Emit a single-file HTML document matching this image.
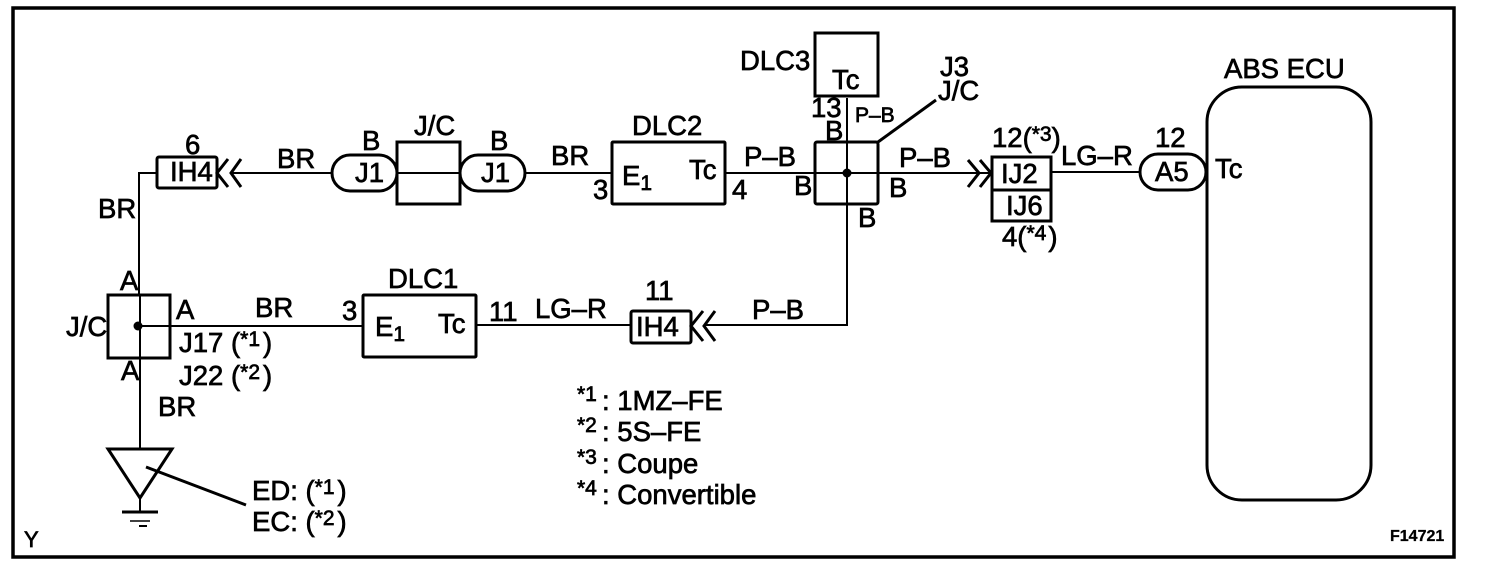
<!DOCTYPE html>
<html>
<head>
<meta charset="utf-8">
<style>
html,body{margin:0;padding:0;background:#fff;}
svg{display:block;}
text{font-family:"Liberation Sans",sans-serif;font-size:27.5px;fill:#000;stroke:#000;stroke-width:.7px;}
.s{font-size:21px;}
.m{font-size:21px;}
</style>
</head>
<body>
<svg width="1504" height="576" viewBox="0 0 1504 576" xmlns="http://www.w3.org/2000/svg">
<rect x="13" y="8" width="1441" height="549" fill="none" stroke="#000" stroke-width="3.5"/>
<g fill="none" stroke="#000" stroke-width="2">
<path d="M157 173H139V295"/>
<path d="M140 295V448"/>
<path d="M231 173H332"/>
<path d="M525 173H612"/>
<path d="M725 173H990"/>
<path d="M847 98V325H704"/>
<path d="M1051 172H1140"/>
<path d="M139 326H363"/>
<path d="M476 325H631"/>
<path d="M140 498V511"/>
<path d="M397 173H460"/>
</g>
<g fill="none" stroke="#000" stroke-width="3">
<rect x="157" y="157" width="60" height="31" rx="2"/>
<path d="M228 159L217 173L228 187M241 159L231 173L241 187"/>
<rect x="332" y="155" width="65" height="36" rx="18"/>
<rect x="397" y="142" width="63" height="62"/>
<rect x="460" y="155" width="65" height="36" rx="18"/>
<rect x="612" y="142" width="113" height="62" rx="1"/>
<rect x="815" y="33" width="63" height="63"/>
<rect x="815" y="142" width="63" height="62" rx="2"/>
<path d="M878 142L936 100"/>
<path d="M968 160L979 173L968 187M980 160L991 173L980 187"/>
<rect x="992" y="157" width="59" height="33"/>
<rect x="992" y="190" width="59" height="31"/>
<rect x="1140" y="154" width="66" height="36" rx="18"/>
<rect x="1207" y="87" width="164" height="413" rx="35"/>
<rect x="108" y="295" width="62" height="63"/>
<rect x="363" y="295" width="113" height="62" rx="1"/>
<rect x="631" y="311" width="60" height="32" rx="2"/>
<path d="M703 311L691 326L703 341M715 311L704 326L715 341"/>
<path d="M108 449H172L140 498Z"/>
<path d="M146 467L246 505"/>
<path d="M122 512H158"/>
<path d="M130 521H150" stroke-width="1.5"/>
<path d="M139 526H147" stroke-width="2"/>
</g>
<circle cx="847" cy="173" r="4.5" fill="#000"/>
<circle cx="138" cy="326" r="4.5" fill="#000"/>

<text x="185" y="154">6</text>
<text x="170" y="181">IH4</text>
<text x="277" y="168">BR</text>
<text x="98" y="218">BR</text>
<text x="362" y="150">B</text>
<text x="355" y="182">J1</text>
<text x="414" y="135">J/C</text>
<text x="490" y="150">B</text>
<text x="481" y="182">J1</text>
<text x="551" y="165">BR</text>
<text x="632" y="135">DLC2</text>
<text x="622" y="185">E<tspan class="s" dy="5">1</tspan></text>
<text x="689" y="179">Tc</text>
<text x="593" y="199">3</text>
<text x="732" y="199">4</text>
<text x="744" y="166">P–B</text>
<text x="740" y="70">DLC3</text>
<text x="832" y="89">Tc</text>
<text x="811" y="117">13</text>
<text class="m" x="855" y="122">P–B</text>
<text x="825" y="140">B</text>
<text x="794" y="195">B</text>
<text x="889" y="197">B</text>
<text x="858" y="227">B</text>
<text x="940" y="76">J3</text>
<text x="938" y="100">J/C</text>
<text x="899" y="167">P–B</text>
<text x="992" y="147">12(<tspan class="s" dy="-6">*3</tspan><tspan dy="6">)</tspan></text>
<text x="1001" y="183">IJ2</text>
<text x="1006" y="215">IJ6</text>
<text x="1002" y="246">4(<tspan class="s" dy="-6">*4</tspan><tspan dx="2" dy="6">)</tspan></text>
<text x="1061" y="165">LG–R</text>
<text x="1155" y="147">12</text>
<text x="1155" y="181">A5</text>
<text x="1215" y="178">Tc</text>
<text x="1224" y="78">ABS ECU</text>

<text x="120" y="290">A</text>
<text x="176" y="319">A</text>
<text x="121" y="380">A</text>
<text x="66" y="336">J/C</text>
<text x="179" y="352">J17 (<tspan class="s" dy="-6">*1</tspan><tspan dx="3" dy="6">)</tspan></text>
<text x="179" y="385">J22 (<tspan class="s" dy="-6">*2</tspan><tspan dx="3" dy="6">)</tspan></text>
<text x="255" y="317">BR</text>
<text x="342" y="320">3</text>
<text x="388" y="288">DLC1</text>
<text x="375" y="336">E<tspan class="s" dy="5">1</tspan></text>
<text x="438" y="333">Tc</text>
<text x="489" y="321">11</text>
<text x="535" y="318">LG–R</text>
<text x="645" y="300">11</text>
<text x="636" y="336">IH4</text>
<text x="752" y="319">P–B</text>
<text x="158" y="416">BR</text>

<text x="252" y="500">ED: (<tspan class="s" dy="-6">*1</tspan><tspan dx="3" dy="6">)</tspan></text>
<text x="252" y="531">EC: (<tspan class="s" dy="-6">*2</tspan><tspan dx="3" dy="6">)</tspan></text>

<text class="s" x="577" y="401">*1</text><text x="602" y="410">: 1MZ–FE</text>
<text class="s" x="577" y="432">*2</text><text x="602" y="441">: 5S–FE</text>
<text class="s" x="577" y="464">*3</text><text x="602" y="473">: Coupe</text>
<text class="s" x="577" y="495">*4</text><text x="602" y="504">: Convertible</text>

<text x="24" y="547" style="font-size:22px">Y</text>
<text x="1390" y="541" style="font-size:16px;font-weight:bold;stroke-width:.3px">F14721</text>
</svg>
</body>
</html>
